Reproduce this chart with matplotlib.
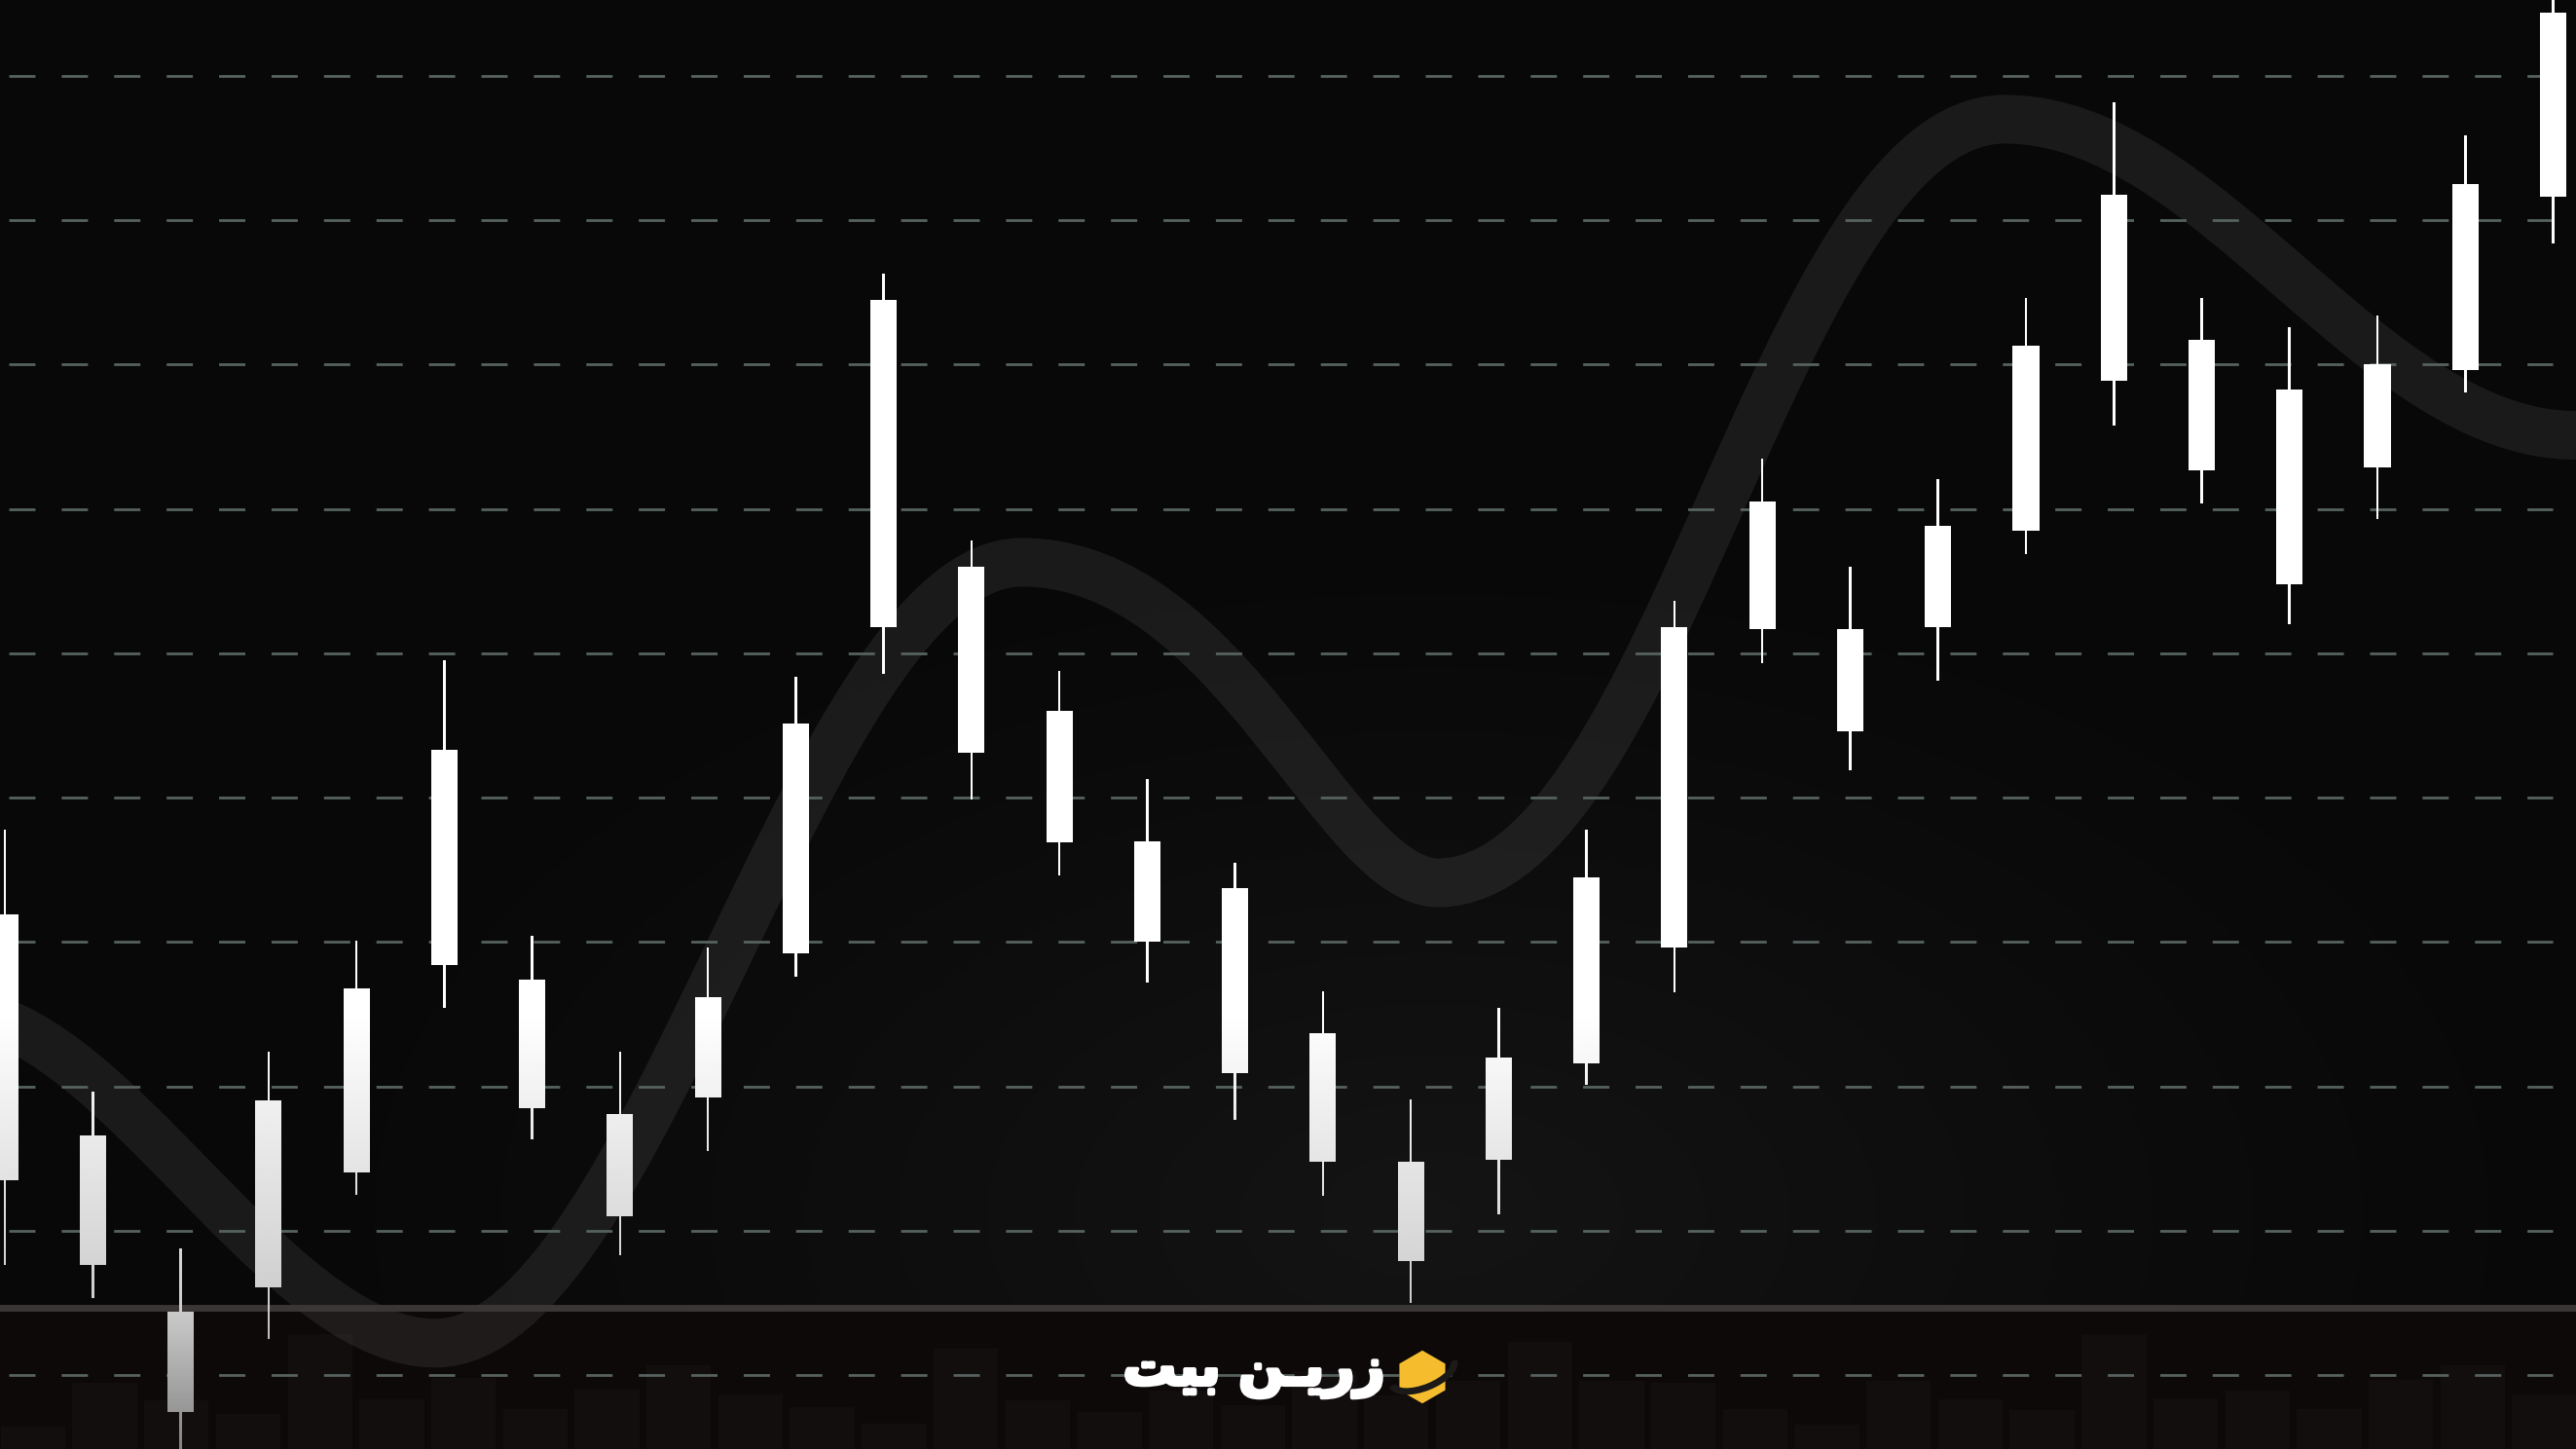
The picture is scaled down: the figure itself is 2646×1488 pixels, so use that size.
import numpy as np
import matplotlib
matplotlib.use("Agg")
import matplotlib.pyplot as plt
import matplotlib.patheffects as pe
from matplotlib.path import Path
from matplotlib.patches import RegularPolygon, Arc, PathPatch

plt.rcParams['font.family'] = ['DejaVu Sans']
plt.rcParams['lines.scale_dashes'] = False

W, H, DPI = 2646, 1488, 100

# candles, price units (grid every 10)
highs = [137.8, 119.6, 108.8, 122.4, 130.1, 149.5, 130.4, 122.4, 129.6, 148.4,
         176.3, 157.8, 148.8, 141.3, 135.5, 126.6, 119.1, 125.4, 137.8, 153.6,
         163.5, 156.0, 162.1, 174.6, 188.2, 174.6, 172.6, 173.4, 185.9, 196.0]
lows = [107.6, 105.3, 94.0, 102.5, 112.5, 125.4, 116.3, 108.3, 115.5, 127.6,
        148.6, 139.9, 134.6, 127.2, 117.7, 112.4, 105.0, 111.1, 120.1, 126.5,
        149.3, 141.9, 148.1, 156.9, 165.8, 160.4, 152.0, 159.3, 168.1, 178.4]
body_top = [131.9, 116.6, 104.4, 119.0, 126.8, 143.3, 127.4, 118.1, 126.2, 145.1,
            174.5, 156.0, 146.0, 137.0, 133.7, 123.7, 114.8, 122.0, 134.5, 151.8,
            160.5, 151.7, 158.8, 171.3, 181.8, 171.7, 168.3, 170.0, 182.5, 194.4]
body_bottom = [113.5, 107.6, 97.4, 106.1, 114.0, 128.4, 118.5, 111.0, 119.2, 129.2,
               151.8, 143.1, 136.9, 130.0, 120.9, 114.8, 107.9, 114.9, 121.6, 129.6,
               151.7, 144.6, 151.8, 158.5, 168.9, 162.7, 154.8, 162.9, 169.6, 181.6]

# the wide grey wave: bezier points (node, handle, handle, node, ...)
wave_x = [-0.06, 1.58, 3.24, 4.90, 7.30, 9.17, 11.57, 13.94, 15.13, 16.31,
          18.89, 20.18, 22.76, 25.10, 26.92, 29.26]
wave_y = [124.5, 120.7, 102.2, 102.2, 102.2, 156.3, 156.3, 156.3, 134.1, 134.1,
          134.1, 187.0, 187.0, 187.0, 165.1, 165.1]

# faint volume bars in the bottom strip
vol_heights = [23, 68, 50, 36, 118, 51, 73, 41, 61, 86, 56, 43,
               26, 103, 50, 38, 60, 45, 80, 55, 70, 110, 70, 68,
               41, 25, 70, 51, 40, 118, 52, 60, 41, 71, 86, 56]

grid_levels = [100, 110, 120, 130, 140, 150, 160, 170, 180, 190]
separator = 104.65
brand = '\uFE96\uFEF4\uFE91 \uFEE6\u0640\uFEF3\uFEAD\uFEAF'  # زرین بیت

x = np.arange(len(highs))
xlim = (-0.056, 29.26)
ylim = (94.87, 195.26)

fig = plt.figure(figsize=(W / DPI, H / DPI), dpi=DPI, facecolor='#090909')

# background glow
ax_bg = fig.add_axes([0, 0, 1, 1], zorder=0)
ax_bg.set_axis_off()
gx, gy = np.meshgrid(np.linspace(0, 1, 400), np.linspace(0, 1, 225))
r = np.sqrt(((gx - 0.556) / 0.43) ** 2 + ((gy - 0.16) / 0.45) ** 2)
glow = (9 + 12 * np.clip(1 - r, 0, 1) ** 1.2) / 255
ax_bg.imshow(np.dstack([glow, glow * 0.97, glow * 0.97]), extent=[0, 1, 0, 1],
             origin='lower', aspect='auto', interpolation='bilinear')
ax_bg.set_xlim(0, 1)
ax_bg.set_ylim(0, 1)

# bottom strip with volume
ax_vol = fig.add_axes([0, 0, 1, 145 / H], zorder=1, facecolor='#0d0909')
ax_vol.bar(np.arange(len(vol_heights)), vol_heights, width=0.9, color='#130e0e')
ax_vol.set_xlim(-0.46, 35.44)
ax_vol.set_ylim(0, 145)
for s in ax_vol.spines.values():
    s.set_visible(False)
ax_vol.set_xticks([])
ax_vol.set_yticks([])

# main chart
ax = fig.add_axes([0, 0, 1, 1], zorder=2)
ax.patch.set_alpha(0)
ax.set_axis_off()
ax.set_xlim(*xlim)
ax.set_ylim(*ylim)

codes = [Path.MOVETO] + [Path.CURVE4] * (len(wave_x) - 1)
wave = Path(np.column_stack([wave_x, wave_y]), codes)
ax.add_patch(PathPatch(wave, facecolor='none', edgecolor=(1, 1, 1, 0.075), lw=36,
                       capstyle='butt', zorder=1))

for lv in grid_levels:
    ax.axhline(lv, xmin=0.0034, xmax=0.991, color='#56625f', lw=2,
               linestyle=(0, (19.4, 19.4)), zorder=2)
ax.axhline(separator, color='#3a3636', lw=5, zorder=2)

# candles: bodies and wicks as hidden bars, then a grey gradient clipped to them
top = np.array(body_top)
bot = np.array(body_bottom)
bodies = ax.bar(x, top - bot, bottom=bot, width=0.3, visible=False)
up_w = ax.bar(x, np.array(highs) - top, bottom=top, width=0.028, visible=False)
lo_w = ax.bar(x, bot - np.array(lows), bottom=lows, width=0.028, visible=False)
rects = list(bodies) + list(up_w) + list(lo_w)
clip = Path.make_compound_path(*[p.get_path().transformed(p.get_patch_transform())
                                 for p in rects])
ys = np.linspace(ylim[0], ylim[1], 600)
shade = np.interp(ys, [95, 104.5, 125, 200], [0.52, 0.80, 1.0, 1.0])
im = ax.imshow(np.tile(shade[:, None], (1, 2)), extent=[*xlim, *ylim], origin='lower',
               aspect='auto', cmap='gray', vmin=0, vmax=1, interpolation='bilinear',
               zorder=3)
im.set_clip_path(clip, ax.transData)
ax.set_xlim(*xlim)
ax.set_ylim(*ylim)

# brand
ax.text(0.4868, 0.0531, brand, transform=ax.transAxes, ha='center', va='center',
        fontsize=39, fontweight='bold', color='white', zorder=5,
        path_effects=[pe.withStroke(linewidth=3, foreground='white')])

ax_logo = fig.add_axes([(1461 - 40) / W, (H - 1414 - 40) / H, 80 / W, 80 / H], zorder=3)
ax_logo.set_axis_off()
ax_logo.set_xlim(-1, 1)
ax_logo.set_ylim(-1, 1)
ax_logo.add_patch(RegularPolygon((0, 0), 6, radius=0.68, orientation=0,
                                 facecolor='#f5bd2e', edgecolor='none'))
ax_logo.add_patch(Arc((0.02, 0.1), 1.7, 0.75, angle=22, theta1=180, theta2=360,
                      color='#1c1a18', lw=5))

fig.savefig('out.png', dpi=DPI, facecolor=fig.get_facecolor())
